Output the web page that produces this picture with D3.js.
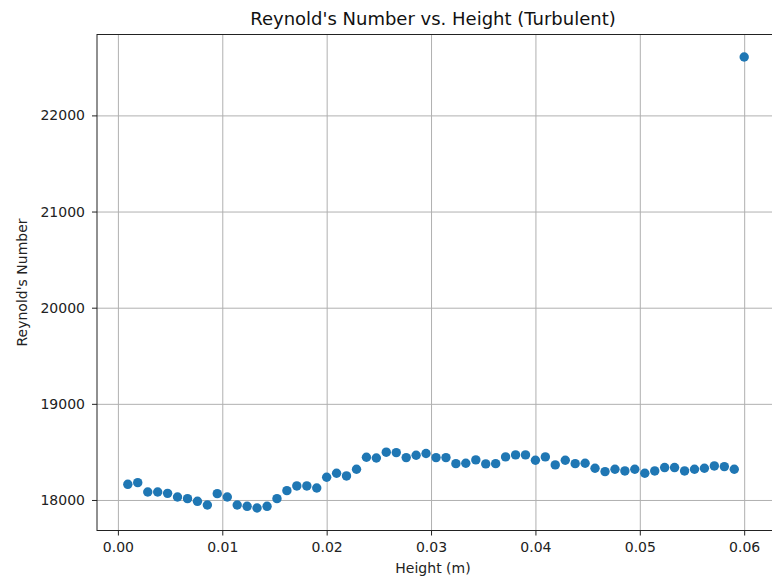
<!DOCTYPE html>
<meta charset="utf-8">
<script src="https://d3js.org/d3.v7.min.js"></script>
<style>
  body { margin: 0; background: #fff; }
  text { font-family: "DejaVu Sans", sans-serif; fill: #222; }
  .grid line { stroke: #b0b0b0; stroke-width: 1; }
  .grid path { display: none; }
  .axis path, .axis line { stroke: #222; }
</style>
<body>
<div id="chart"></div>
<script>

// heights (m), one reading per sample
var heights = [
  0.00095, 0.00190, 0.00286, 0.00381, 0.00476, 0.00571, 0.00667, 0.00762, 0.00857, 0.00952,
  0.01048, 0.01143, 0.01238, 0.01333, 0.01429, 0.01524, 0.01619, 0.01714, 0.01810, 0.01905,
  0.02000, 0.02095, 0.02190, 0.02286, 0.02381, 0.02476, 0.02571, 0.02667, 0.02762, 0.02857,
  0.02952, 0.03048, 0.03143, 0.03238, 0.03333, 0.03429, 0.03524, 0.03619, 0.03714, 0.03810,
  0.03905, 0.04000, 0.04095, 0.04190, 0.04286, 0.04381, 0.04476, 0.04571, 0.04667, 0.04762,
  0.04857, 0.04952, 0.05048, 0.05143, 0.05238, 0.05333, 0.05429, 0.05524, 0.05619, 0.05714,
  0.05810, 0.05905, 0.06000
];

// Reynold's number at each height
var reynolds = [
  18163, 18180, 18083, 18083, 18069, 18031, 18014, 17986, 17948, 18066,
  18031, 17948, 17934, 17917, 17934, 18014, 18097, 18146, 18146, 18125,
  18236, 18278, 18250, 18320, 18444, 18437, 18497, 18493, 18441, 18465,
  18483, 18441, 18441, 18378, 18382, 18417, 18375, 18378, 18448, 18469,
  18469, 18413, 18448, 18365, 18413, 18378, 18382, 18330, 18295, 18320,
  18302, 18320, 18278, 18302, 18337, 18337, 18302, 18320, 18330, 18354,
  18347, 18320, 22607
];

var xTicks = [0.00, 0.01, 0.02, 0.03, 0.04, 0.05, 0.06];
var yTicks = [18000, 19000, 20000, 21000, 22000];

var margin = {top: 34.5, right: -3, bottom: 50.5, left: 97},
    width = 772 - margin.left - margin.right,
    height = 581 - margin.top - margin.bottom;

var svg = d3.select("#chart")
  .append("svg")
    .attr("width", 772)
    .attr("height", 581)
  .append("g")
    .attr("transform", "translate(" + margin.left + "," + margin.top + ")");

// matplotlib style 5% padding around the data
var xMin = d3.min(heights), xMax = d3.max(heights), xPad = (xMax - xMin) * 0.05;
var yMin = d3.min(reynolds), yMax = d3.max(reynolds), yPad = (yMax - yMin) * 0.05;

var x = d3.scaleLinear()
  .domain([xMin - xPad, xMax + xPad])
  .range([0, width]);

var y = d3.scaleLinear()
  .domain([yMin - yPad, yMax + yPad])
  .range([height, 0]);

// grid
svg.append("g")
  .attr("class", "grid")
  .attr("transform", "translate(0," + height + ")")
  .call(d3.axisBottom(x).tickValues(xTicks).tickSize(-height).tickFormat(""));

svg.append("g")
  .attr("class", "grid")
  .call(d3.axisLeft(y).tickValues(yTicks).tickSize(-width).tickFormat(""));

// frame
svg.append("rect")
  .attr("width", width)
  .attr("height", height)
  .attr("fill", "none")
  .attr("stroke", "#222")
  .attr("stroke-width", 1);

// axes
svg.append("g")
  .attr("class", "axis")
  .attr("transform", "translate(0," + height + ")")
  .call(d3.axisBottom(x).tickValues(xTicks).tickSize(5).tickPadding(6.5).tickFormat(d3.format(".2f")));

svg.append("g")
  .attr("class", "axis")
  .call(d3.axisLeft(y).tickValues(yTicks).tickSize(5).tickPadding(7).tickFormat(d3.format("d")));

svg.selectAll(".axis path").remove();
svg.selectAll(".axis text").style("font-size", "14px").style("fill", "#222");

// dots
svg.append("g")
  .selectAll("circle")
  .data(heights)
  .enter()
  .append("circle")
    .attr("cx", function (d) { return x(d); })
    .attr("cy", function (d, i) { return y(reynolds[i]); })
    .attr("r", 4.7)
    .style("fill", "#1f77b4");

// title
svg.append("text")
  .attr("x", (width - 6) / 2)
  .attr("y", -9.5)
  .style("text-anchor", "middle")
  .style("font-size", "18px")
  .style("fill", "#111")
  .text("Reynold's Number vs. Height (Turbulent)");

// axis labels
svg.append("text")
  .attr("x", (width - 6) / 2)
  .attr("y", height + 42.5)
  .style("text-anchor", "middle")
  .style("font-size", "14px")
  .text("Height (m)");

svg.append("text")
  .attr("transform", "rotate(-90)")
  .attr("x", -height / 2)
  .attr("y", -70)
  .style("text-anchor", "middle")
  .style("font-size", "14px")
  .text("Reynold's Number");

</script>
</body>
